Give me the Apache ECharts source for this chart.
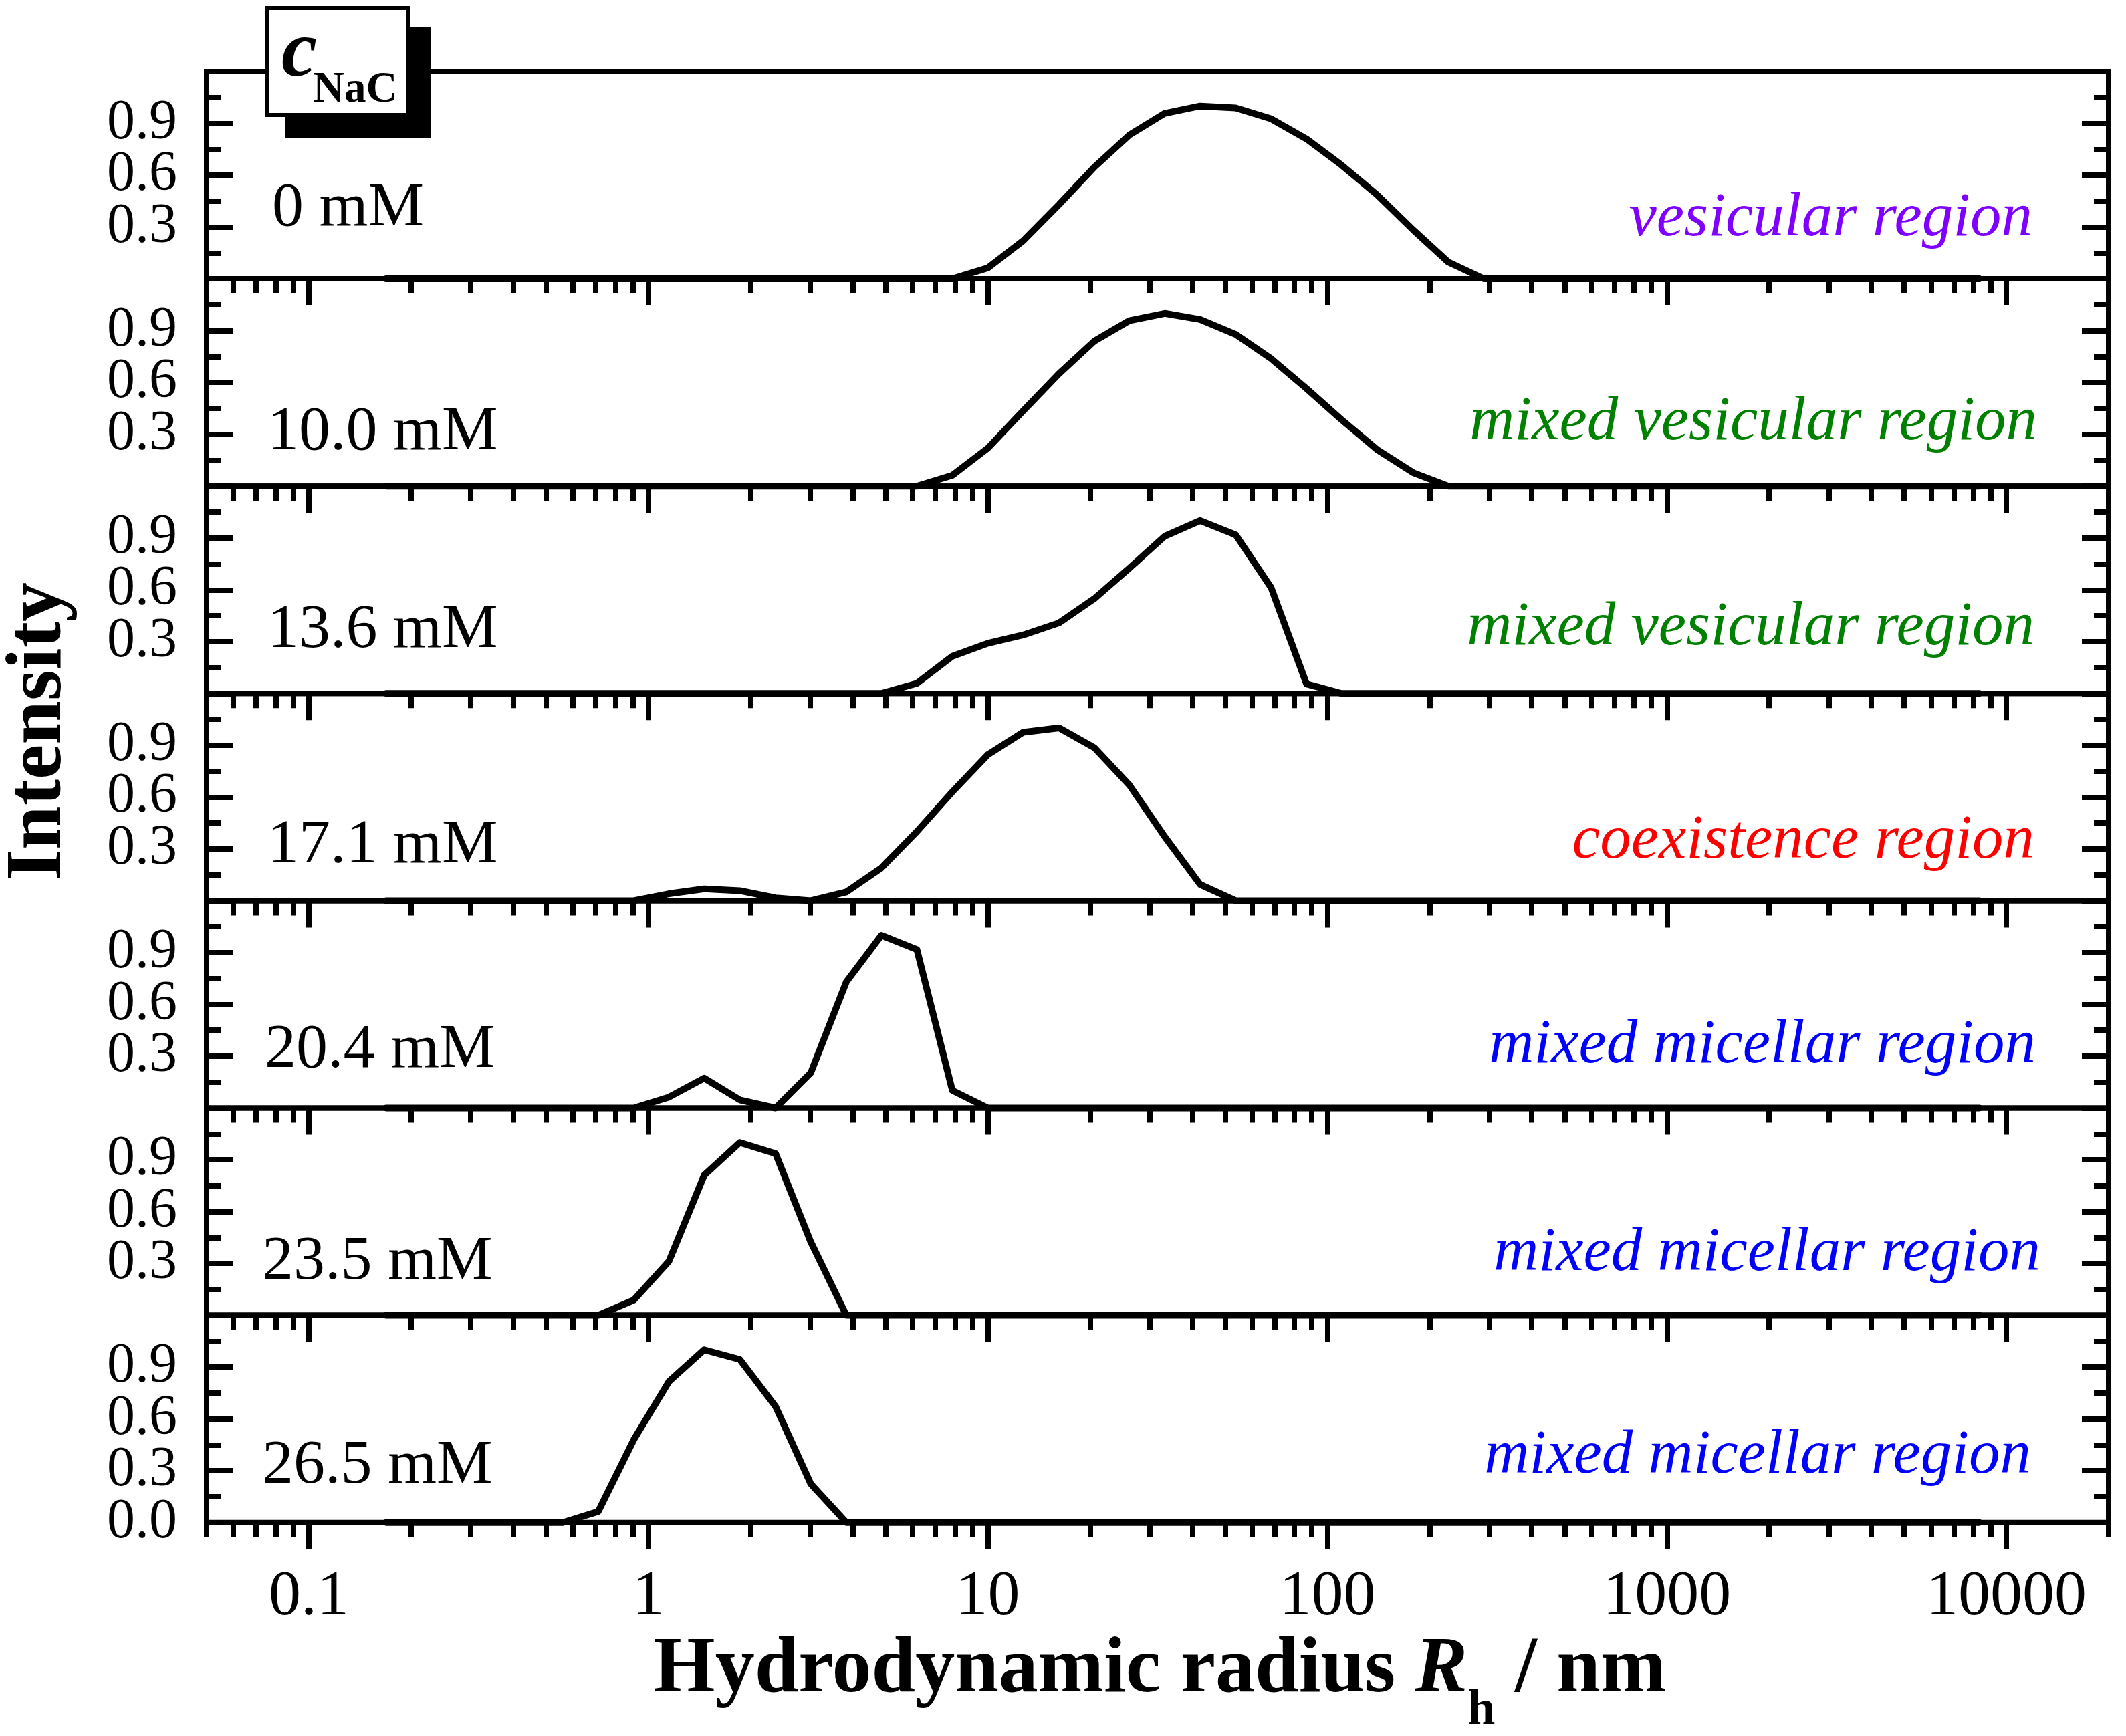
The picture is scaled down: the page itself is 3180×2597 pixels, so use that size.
<!DOCTYPE html>
<html>
<head>
<meta charset="utf-8">
<script src="https://cdn.jsdelivr.net/npm/echarts@6/dist/echarts.min.js"></script>
<style>
html,body{margin:0;padding:0;background:#ffffff;}
#chart{width:3180px;height:2597px;}
</style>
</head>
<body>
<div id="chart"></div>
<script>
// ---------- data ----------
const radius = [0.169, 0.214, 0.273, 0.347, 0.441, 0.560, 0.712, 0.906, 1.15, 1.46,
  1.86, 2.37, 3.01, 3.83, 4.86, 6.18, 7.86, 10.0, 12.7, 16.2,
  20.6, 26.1, 33.2, 42.2, 53.7, 68.3, 86.8, 110, 140, 179,
  227, 289, 367, 466, 593, 754, 959, 1220, 1550, 1970,
  2510, 3190, 4050, 5150, 6550, 8320];

const int_0mM = [0,0,0,0,0,0,0,0,0,0, 0,0,0,0,0,0,0,0.063,0.22,0.43,
  0.647,0.832,0.958,1.0,0.989,0.926,0.81,0.659,0.487,0.283,
  0.097,0,0,0,0,0,0,0,0,0, 0,0,0,0,0,0];
const int_10_0mM = [0,0,0,0,0,0,0,0,0,0, 0,0,0,0,0,0,0.063,0.22,0.435,0.651,
  0.84,0.958,1.0,0.965,0.879,0.738,0.565,0.385,0.212,0.078,
  0,0,0,0,0,0,0,0,0,0, 0,0,0,0,0,0];
const int_13_6mM = [0,0,0,0,0,0,0,0,0,0, 0,0,0,0,0,0.058,0.215,0.29,0.338,0.408,
  0.549,0.725,0.91,1.0,0.918,0.612,0.055,0,0,0,
  0,0,0,0,0,0,0,0,0,0, 0,0,0,0,0,0];
const int_17_1mM = [0,0,0,0,0,0,0,0,0.04,0.068, 0.058,0.016,0,0.05,0.19,0.40,0.63,0.845,0.975,1.0,
  0.885,0.67,0.37,0.094,0,0,0,0,0,0,
  0,0,0,0,0,0,0,0,0,0, 0,0,0,0,0,0];
const int_20_4mM = [0,0,0,0,0,0,0,0,0.063,0.173, 0.047,0,0.204,0.73,1.0,0.918,0.102,0,0,0,
  0,0,0,0,0,0,0,0,0,0,
  0,0,0,0,0,0,0,0,0,0, 0,0,0,0,0,0];
const int_23_5mM = [0,0,0,0,0,0,0,0.088,0.312,0.81, 1.0,0.936,0.424,0,0,0,0,0,0,0,
  0,0,0,0,0,0,0,0,0,0,
  0,0,0,0,0,0,0,0,0,0, 0,0,0,0,0,0];
const int_26_5mM = [0,0,0,0,0,0,0.064,0.48,0.816,1.0, 0.944,0.672,0.224,0,0,0,0,0,0,0,
  0,0,0,0,0,0,0,0,0,0,
  0,0,0,0,0,0,0,0,0,0, 0,0,0,0,0,0];

const panelSeries = [int_0mM, int_10_0mM, int_13_6mM, int_17_1mM, int_20_4mM, int_23_5mM, int_26_5mM];
const concLabels = ['0 mM', '10.0 mM', '13.6 mM', '17.1 mM', '20.4 mM', '23.5 mM', '26.5 mM'];
const regionLabels = ['vesicular region', 'mixed vesicular region', 'mixed vesicular region',
  'coexistence region', 'mixed micellar region', 'mixed micellar region', 'mixed micellar region'];
const regionColors = ['#8000ff', '#008000', '#008000', '#ff0000', '#0000ff', '#0000ff', '#0000ff'];

const xMajorTicks = [0.1, 1, 10, 100, 1000, 10000];
const xMinorTicks = [0.05, 0.06, 0.07, 0.08, 0.09,
  0.2, 0.3, 0.4, 0.5, 0.6, 0.7, 0.8, 0.9,
  2, 3, 4, 5, 6, 7, 8, 9,
  20, 30, 40, 50, 60, 70, 80, 90,
  200, 300, 400, 500, 600, 700, 800, 900,
  2000, 3000, 4000, 5000, 6000, 7000, 8000, 9000,
  20000];

// ---------- layout ----------
const FONT = '"Liberation Serif", "Times New Roman", serif';
const PLOT_LEFT = 309, PLOT_RIGHT = 3154, PLOT_TOP = 107, PANEL_H = 310.1;
const N = panelSeries.length;
const concOffset = [105, 80, 94, 82, 86, 79, 84];
const concLeft = [407, 400, 400, 400, 396, 392, 392];
const regionOffset = [90, 95, 98, 89, 93, 92, 99];
const regionRight = [3040, 3047, 3043, 3043, 3045, 3052, 3038];

const tickStyle = { color: '#000', width: 8 };
const yLabelStyle = { margin: 44, fontFamily: FONT, fontSize: 84, color: '#000', formatter: v => Number(v).toFixed(1) };
const grid = [], xAxis = [], yAxis = [], series = [], graphic = [];

for (let p = 0; p < N; p++) {
  const top = PLOT_TOP + p * PANEL_H;
  grid.push({
    left: PLOT_LEFT, top: top, width: PLOT_RIGHT - PLOT_LEFT, height: PANEL_H,
    show: true, borderColor: '#000', borderWidth: 8, backgroundColor: 'transparent'
  });
  const isBottom = p === N - 1;
  xAxis.push({
    type: 'log', logBase: 10, gridIndex: p, min: 0.05, max: 20000, position: 'bottom',
    axisLine: { show: false }, splitLine: { show: false }, minorTick: { show: false },
    axisTick: { show: true, inside: false, length: 40, lineStyle: tickStyle, customValues: xMajorTicks },
    axisLabel: {
      show: isBottom, customValues: xMajorTicks, margin: 64, hideOverlap: false,
      fontFamily: FONT, fontSize: 96, color: '#000',
      formatter: v => String(Number(Number(v).toPrecision(6)))
    }
  });
  xAxis.push({
    type: 'log', logBase: 10, gridIndex: p, min: 0.05, max: 20000, position: 'bottom',
    axisLine: { show: false }, splitLine: { show: false }, minorTick: { show: false },
    axisTick: { show: true, inside: false, length: 22, lineStyle: tickStyle, customValues: xMinorTicks },
    axisLabel: { show: false }
  });
  const yBase = {
    type: 'value', gridIndex: p, min: 0, max: 1.2, interval: 0.3,
    axisLine: { show: false }, splitLine: { show: false },
    axisTick: { show: true, inside: true, length: 40, lineStyle: tickStyle },
    minorTick: { show: true, splitNumber: 2, length: 22, lineStyle: tickStyle }
  };
  yAxis.push(Object.assign({}, yBase, {
    position: 'left',
    axisLabel: Object.assign({ show: true, showMinLabel: false, showMaxLabel: false }, yLabelStyle)
  }));
  yAxis.push(Object.assign({}, yBase, { position: 'right', axisLabel: { show: false } }));

  const arr = panelSeries[p];
  series.push({
    type: 'line', name: concLabels[p],
    xAxisIndex: 2 * p, yAxisIndex: 2 * p,
    data: radius.map((r, i) => [r, arr[i]]),
    symbol: 'none', clip: false, z: 5,
    lineStyle: { color: '#000', width: 10, join: 'round', cap: 'round' },
    animation: false
  });

  const bottom = top + PANEL_H;
  graphic.push({
    type: 'text', x: concLeft[p], y: bottom - concOffset[p], z: 50,
    style: { text: concLabels[p], fill: '#000', font: '94px ' + FONT, align: 'left', verticalAlign: 'middle' }
  });
  graphic.push({
    type: 'text', x: regionRight[p], y: bottom - regionOffset[p], z: 50,
    style: { text: regionLabels[p], fill: regionColors[p], font: 'italic 93px ' + FONT, align: 'right', verticalAlign: 'middle' }
  });
}

// extra left axis on the bottom panel carrying only the "0.0" label
yAxis.push({
  type: 'value', gridIndex: N - 1, min: 0, max: 1.2, interval: 1.2, position: 'left',
  axisLine: { show: false }, splitLine: { show: false }, axisTick: { show: false }, minorTick: { show: false },
  axisLabel: Object.assign({ show: true, showMinLabel: true, showMaxLabel: false }, yLabelStyle)
});

// c_NaC box with drop shadow
graphic.push({ type: 'rect', z: 60, shape: { x: 426, y: 40, width: 218, height: 167 }, style: { fill: '#000' } });
graphic.push({ type: 'rect', z: 61, shape: { x: 400, y: 12, width: 211, height: 160 }, style: { fill: '#fff', stroke: '#000', lineWidth: 6 } });
graphic.push({ type: 'text', z: 62, x: 421, y: 82, style: { text: 'c', fill: '#000', font: 'italic bold 120px ' + FONT, align: 'left', verticalAlign: 'middle' } });
graphic.push({ type: 'text', z: 62, x: 468, y: 135, style: { text: 'NaC', fill: '#000', font: 'bold 65px ' + FONT, align: 'left', verticalAlign: 'middle' } });

// axis titles
graphic.push({
  type: 'text', z: 50, x: 60, y: 1094, rotation: Math.PI / 2,
  style: { text: 'Intensity', fill: '#000', font: 'bold 118px ' + FONT, align: 'center', verticalAlign: 'middle' }
});
graphic.push({
  type: 'text', z: 50, x: 1735, y: 2500,
  style: {
    text: '{a|Hydrodynamic radius }{r|R}{s|h}{a| / nm}',
    align: 'center', verticalAlign: 'middle', fill: '#000',
    rich: {
      a: { fontFamily: FONT, fontWeight: 'bold', fontSize: 118, fill: '#000' },
      r: { fontFamily: FONT, fontWeight: 'bold', fontStyle: 'italic', fontSize: 118, fill: '#000' },
      s: { fontFamily: FONT, fontWeight: 'bold', fontSize: 74, fill: '#000', padding: [120, 0, 0, 0] }
    }
  }
});

const chart = echarts.init(document.getElementById('chart'), null, { renderer: 'canvas' });
chart.setOption({
  animation: false,
  backgroundColor: '#ffffff',
  grid: grid,
  xAxis: xAxis,
  yAxis: yAxis,
  series: series,
  graphic: graphic
});
</script>
</body>
</html>
